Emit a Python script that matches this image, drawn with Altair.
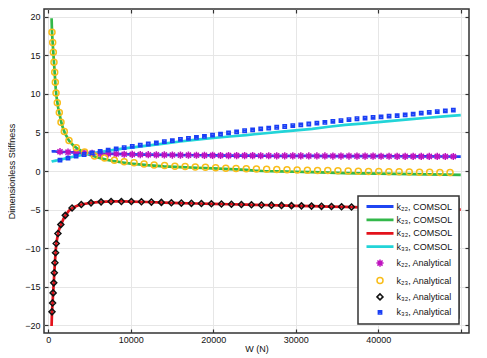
import altair as alt
import pandas as pd

# ---------------- data ----------------
W_COMSOL = [400, 450, 500, 550, 600, 700, 800, 900, 1000, 1200, 1400, 1600, 1800, 2000,
            2500, 3000, 3500, 4000, 5000, 6000, 7000, 8000, 9000, 10000, 12000, 14000,
            16000, 18000, 20000, 22000, 24000, 25000, 26000, 28000, 30000, 32000, 34000,
            36000, 38000, 40000, 42000, 44000, 46000, 48000, 50000]
K22_COMSOL = [2.56, 2.56, 2.55, 2.55, 2.55, 2.54, 2.54, 2.53, 2.52, 2.51, 2.50, 2.49, 2.47, 2.46,
              2.43, 2.41, 2.38, 2.36, 2.31, 2.27, 2.24, 2.21, 2.18, 2.16, 2.12, 2.09,
              2.06, 2.04, 2.02, 2.00, 1.99, 1.985, 1.98, 1.97, 1.96, 1.95, 1.94,
              1.94, 1.93, 1.92, 1.91, 1.90, 1.89, 1.88, 1.87]
K23_COMSOL = [19.8, 18.0, 17.1, 16.3, 15.5, 13.9, 12.3, 10.7, 9.6, 8.2, 7.2, 6.2, 5.5, 4.95,
              3.95, 3.35, 2.92, 2.6, 2.1, 1.75, 1.48, 1.27, 1.1, 0.95, 0.75, 0.6,
              0.5, 0.42, 0.33, 0.25, 0.15, 0.05, 0.0, -0.05, -0.1, -0.15, -0.22,
              -0.28, -0.32, -0.35, -0.38, -0.41, -0.44, -0.47, -0.5]
K32_COMSOL = [-20.1, -18.3, -17.4, -16.5, -15.6, -13.8, -11.9, -10.3, -9.2, -8.0, -7.3, -6.8, -6.3, -5.85,
              -5.15, -4.75, -4.5, -4.34, -4.15, -4.03, -3.97, -3.95, -3.95, -3.96, -4.02, -4.1,
              -4.16, -4.21, -4.26, -4.31, -4.36, -4.38, -4.41, -4.46, -4.51, -4.56, -4.61,
              -4.66, -4.71, -4.76, -4.81, -4.86, -4.91, -4.96, -5.01]
K33_COMSOL = [1.22, 1.24, 1.26, 1.27, 1.28, 1.30, 1.32, 1.34, 1.36, 1.40, 1.45, 1.50, 1.55, 1.60,
              1.72, 1.84, 1.95, 2.05, 2.25, 2.43, 2.59, 2.74, 2.89, 3.03, 3.30, 3.56,
              3.82, 4.07, 4.28, 4.47, 4.64, 4.76, 4.86, 5.06, 5.26, 5.46, 5.74,
              5.97, 6.15, 6.33, 6.52, 6.72, 6.9, 7.08, 7.25]

W_K22_K33_AN = [1420, 2390, 3370, 4340, 5310, 6290, 7260, 8230, 9200, 10180,
                11150, 12120, 13100, 14070, 15040, 16020, 16990, 17960, 18930, 19910,
                20880, 21850, 22830, 23800, 24770, 25750, 26720, 27690, 28660, 29640,
                30610, 31580, 32560, 33530, 34500, 35480, 36450, 37420, 38400, 39370,
                40340, 41310, 42290, 43260, 44230, 45210, 46180, 47150, 48130, 49100]
K22_AN = [2.50, 2.44, 2.39, 2.34, 2.30, 2.26, 2.23, 2.20, 2.17, 2.15,
          2.13, 2.11, 2.10, 2.08, 2.07, 2.06, 2.05, 2.04, 2.03, 2.02,
          2.01, 2.00, 2.00, 1.99, 1.99, 1.98, 1.98, 1.97, 1.97, 1.96,
          1.96, 1.95, 1.95, 1.95, 1.94, 1.94, 1.94, 1.93, 1.93, 1.93,
          1.91, 1.91, 1.90, 1.90, 1.90, 1.89, 1.89, 1.89, 1.88, 1.88]
K33_AN = [1.41, 1.68, 1.93, 2.14, 2.36, 2.55, 2.71, 2.87, 3.03, 3.19,
          3.35, 3.50, 3.65, 3.80, 3.95, 4.09, 4.22, 4.36, 4.50, 4.64,
          4.79, 4.93, 5.08, 5.22, 5.34, 5.46, 5.57, 5.67, 5.77, 5.87,
          5.98, 6.09, 6.20, 6.31, 6.42, 6.52, 6.65, 6.77, 6.85, 6.94,
          7.02, 7.11, 7.19, 7.28, 7.38, 7.49, 7.59, 7.69, 7.79, 7.88]

W_K23_AN = [450, 530, 610, 690, 775, 850, 935, 1090, 1335, 1540,
            1940, 2510, 3400, 4400, 5600, 6820, 8010, 9200, 10400, 11610,
            12830, 14100, 15350, 16590, 17820, 19050, 20290, 21520, 22760, 24000,
            25230, 26470, 27700, 28940, 30170, 31410, 32640, 33880, 35110, 36350,
            37580, 38820, 40060, 41290, 42530, 43760, 45000, 46230, 47470, 48700]
K23_AN = [18.0, 16.65, 15.4, 14.1, 12.8, 11.5, 10.1, 8.86, 7.59, 6.31,
          5.11, 3.96, 3.03, 2.45, 1.96, 1.70, 1.40, 1.20, 1.06, 0.90,
          0.79, 0.70, 0.63, 0.57, 0.52, 0.47, 0.42, 0.37, 0.33, 0.29,
          0.26, 0.23, 0.20, 0.17, 0.14, 0.11, 0.08, 0.05, 0.02, 0.00,
          -0.02, -0.05, -0.07, -0.09, -0.11, -0.13, -0.15, -0.17, -0.19, -0.21]

W_K32_AN = [450, 520, 590, 660, 730, 800, 880, 960, 1170, 1520,
            2060, 2880, 4000, 5180, 6400, 7610, 8860, 10070, 11290, 12500,
            13710, 14920, 16130, 17350, 18560, 19770, 20990, 22200, 23410, 24630,
            25840, 27050, 28270, 29480, 30690, 31910, 33120, 34330, 35550, 36760,
            37970, 39190, 40400, 41610, 42830, 44040, 45250, 46470, 47680, 48890]
K32_AN = [-18.26, -17.1, -15.8, -14.5, -13.2, -11.9, -10.6, -9.4, -8.1, -6.95,
          -5.75, -4.8, -4.34, -4.13, -4.0, -3.96, -3.95, -3.96, -3.99, -4.03,
          -4.07, -4.12, -4.16, -4.19, -4.22, -4.25, -4.28, -4.31, -4.34, -4.37,
          -4.40, -4.43, -4.46, -4.49, -4.52, -4.55, -4.58, -4.61, -4.64, -4.67,
          -4.70, -4.73, -4.76, -4.79, -4.82, -4.85, -4.88, -4.91, -4.94, -4.97]

SERIES = ["k₂₂, COMSOL", "k₂₃, COMSOL", "k₃₂, COMSOL", "k₃₃, COMSOL",
          "k₂₂, Analytical", "k₂₃, Analytical", "k₃₂, Analytical", "k₃₃, Analytical"]
COLORS = ["#1f45f2", "#33b84a", "#e3121b", "#22d4d8",
          "#bf12bf", "#f9bd1a", "#111111", "#1a3ff5"]
LINE_SYM = "M-4.5,-0.22H4.5M-4.5,0H4.5M-4.5,0.22H4.5"
SHAPES = [LINE_SYM, LINE_SYM, LINE_SYM, LINE_SYM,
          "M-1.2,0H1.2M0,-1.2V1.2M-0.85,-0.85L0.85,0.85M-0.85,0.85L0.85,-0.85",
          "circle",
          "diamond",
          "M-0.55,-0.55H0.55V0.55H-0.55ZM-0.55,0H0.55"]

X_TICKS = [0, 10000, 20000, 30000, 40000, 50000]
Y_TICKS = [-20, -15, -10, -5, 0, 5, 10, 15, 20]

# ---------------- tables ----------------
line_rows = []
for name, vals in zip(SERIES[:4], [K22_COMSOL, K23_COMSOL, K32_COMSOL, K33_COMSOL]):
    for w, k in zip(W_COMSOL, vals):
        line_rows.append({"W": w, "K": k, "line": name})
df_lines = pd.DataFrame(line_rows)

pt_rows = []
for name, ws, vals in [(SERIES[4], W_K22_K33_AN, K22_AN), (SERIES[5], W_K23_AN, K23_AN),
                       (SERIES[6], W_K32_AN, K32_AN), (SERIES[7], W_K22_K33_AN, K33_AN)]:
    for w, k in zip(ws, vals):
        pt_rows.append({"W": w, "K": k, "series": name})
df_pts = pd.DataFrame(pt_rows)

FONT = "Liberation Sans"
x_scale = alt.Scale(domain=[-520, 51000], nice=False, zero=False)
y_scale = alt.Scale(domain=[-21, 21], nice=False, zero=False)

legend = alt.Legend(title=None, orient="none", legendX=314, legendY=187,
                    fillColor="white", strokeColor="#333333", padding=6,
                    symbolSize=36, symbolStrokeWidth=1.5, symbolOffset=11.5,
                    labelOffset=12, labelFont=FONT, labelFontSize=9, labelColor="#111111",
                    rowPadding=3.4, symbolOpacity=1, labelLimit=200)

# drop shadow of the legend box (same size, no visible entries)
shadow_legend = alt.Legend(title=None, orient="none", legendX=317, legendY=190,
                           fillColor="#5a5a5a", strokeColor="#5a5a5a", padding=6,
                           symbolSize=36, symbolStrokeWidth=1.3, symbolOffset=11.5,
                           labelOffset=65, labelFont=FONT, labelFontSize=9,
                           labelExpr="''",
                           rowPadding=22.3, symbolOpacity=0, labelOpacity=0, labelLimit=200)

lines = alt.Chart(df_lines).mark_line(strokeWidth=2.7).encode(
    x=alt.X("W:Q", scale=x_scale,
            axis=alt.Axis(orient="bottom", values=X_TICKS, format="d",
                          labelExpr="datum.value == 50000 ? '' : datum.label",
                          offset=-4, tickSize=4, domain=False, grid=True,
                          title="W (N)", labelPadding=2, titlePadding=0)),
    y=alt.Y("K:Q", scale=y_scale,
            axis=alt.Axis(orient="left", values=Y_TICKS, offset=-4, tickSize=4,
                          domain=False, grid=True, title="Dimensionless Stiffness",
                          labelPadding=4, titlePadding=8)),
    stroke=alt.Stroke("line:N", scale=alt.Scale(domain=SERIES[:4], range=COLORS[:4]),
                      legend=shadow_legend),
)

points = alt.Chart(df_pts).mark_point(size=36, strokeWidth=1.5, opacity=1, filled=False).encode(
    x=alt.X("W:Q", scale=x_scale,
            axis=alt.Axis(orient="top", values=X_TICKS, labels=False, offset=-4, tickSize=4,
                          domain=False, grid=False, title=None)),
    y=alt.Y("K:Q", scale=y_scale,
            axis=alt.Axis(orient="right", values=Y_TICKS, labels=False, offset=-4, tickSize=4,
                          domain=False, grid=False, title=None)),
    color=alt.Color("series:N", scale=alt.Scale(domain=SERIES, range=COLORS), legend=legend),
    shape=alt.Shape("series:N", scale=alt.Scale(domain=SERIES, range=SHAPES), legend=legend),
)

chart = alt.layer(lines, points).resolve_axis(x="independent", y="independent").properties(
    width=425, height=324,
    autosize=alt.AutoSizeParams(type="none"),
    padding={"left": 36, "top": 1, "right": 10, "bottom": 26},
).configure_view(
    stroke="#333333", strokeWidth=1.5
).configure_axis(
    labelFont=FONT, labelFontSize=9, labelColor="#111111",
    titleFont=FONT, titleFontSize=9, titleFontWeight="normal", titleColor="#111111",
    tickColor="#333333", tickWidth=1.2, gridColor="#e6e6e6", gridWidth=1
).configure_legend(strokeWidth=1.5)

chart.save("out.html", embed_options={"renderer": "svg", "actions": False})
